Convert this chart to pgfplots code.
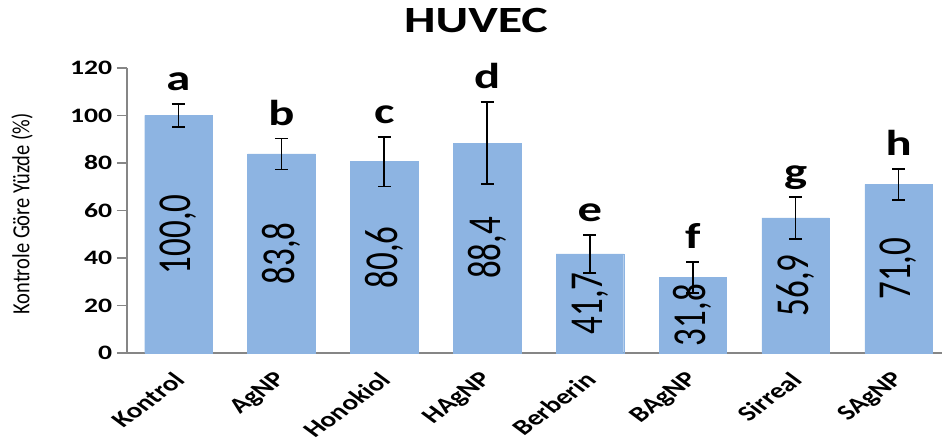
\documentclass[border=0pt]{standalone}
\usepackage{fontspec}
\setmainfont{Carlito}
\usepackage{pgfplots}
\usepackage{pgfplotstable}
\pgfplotsset{compat=1.18}
\definecolor{barblue}{RGB}{141,180,226}
\definecolor{axgray}{RGB}{134,134,134}
\pgfplotstableread{
x y err mid top lab let
0 100.0 4.9 50.00 104.9 100,0 a
1 83.8 6.6 41.90 90.4 83,8 b
2 80.6 10.4 40.30 91.0 80,6 c
3 88.4 17.3 44.20 105.7 88,4 d
4 41.7 8.0 20.85 49.7 41,7 e
5 31.8 6.6 15.90 38.4 31,8 f
6 56.9 8.8 28.45 65.7 56,9 g
7 71.0 6.5 35.50 77.5 71,0 h
}\datatable
\begin{document}
\begin{tikzpicture}
\begin{axis}[
 at={(127pt,88pt)}, anchor=south west,
 scale only axis, width=823pt, height=285pt,
 xmin=-0.5, xmax=7.5, ymin=0, ymax=120,
 axis x line*=bottom, axis y line*=left,
 axis line style={axgray, line width=1.2pt},
 ytick={0,20,...,120},
 xtick={0,...,7},
 xticklabels={Kontrol,AgNP,Honokiol,HAgNP,Berberin,BAgNP,Sirreal,SAgNP},
 xtick style={draw=none},
 minor xtick={-0.5,0.5,...,7.5},
 minor x tick style={axgray, line width=1.2pt},
 ytick style={axgray, line width=1.2pt},
 tick align=outside, major tick length=10pt, minor tick length=10pt,
 /pgf/number format/assume math mode=true,
 yticklabel style={font=\fontsize{20.5}{24}\selectfont\bfseries, xscale=1.35},
 xticklabel style={font=\fontsize{21.5}{24}\selectfont\bfseries, xshift=4pt, yshift=-11pt, xscale=1.35, rotate=45, anchor=east},
 clip=false,
]
\addplot[ybar, bar width=67.5pt, bar shift=0pt, fill=barblue, draw=barblue, line width=0.3pt]
  table[x=x, y=y] {\datatable};
\addplot[draw=none, mark=none,
  error bars/.cd, y dir=both, y explicit, error mark=-,
  error bar style={draw=black, solid, line width=1.5pt},
  error mark options={rotate=90, draw=black, solid, line width=1.5pt, mark size=6.5pt}]
  table[x=x, y=y, y error=err] {\datatable};
\addplot[draw=none, mark=none, nodes near coords, point meta=explicit symbolic,
  every node near coord/.append style={font=\fontsize{35}{40}\selectfont, xscale=1.35, rotate=90, anchor=center}]
  table[x=x, y=mid, meta=lab] {\datatable};
\addplot[draw=none, mark=none, nodes near coords, point meta=explicit symbolic,
  every node near coord/.append style={font=\fontsize{36}{40}\selectfont\bfseries, xscale=1.35, anchor=base, yshift=13pt}]
  table[x=x, y=top, meta=let] {\datatable};
\end{axis}
\node[font=\fontsize{37}{42}\selectfont\bfseries, xscale=1.35, anchor=base] at (476pt,408pt) {HUVEC};
\node[font=\fontsize{20.5}{24}\selectfont, xscale=1.2, rotate=90] at (22pt,227pt) {Kontrole Göre Yüzde (\%)};
\pgfresetboundingbox
\useasboundingbox (0,0) rectangle (942pt,441pt);
\end{tikzpicture}
\end{document}
